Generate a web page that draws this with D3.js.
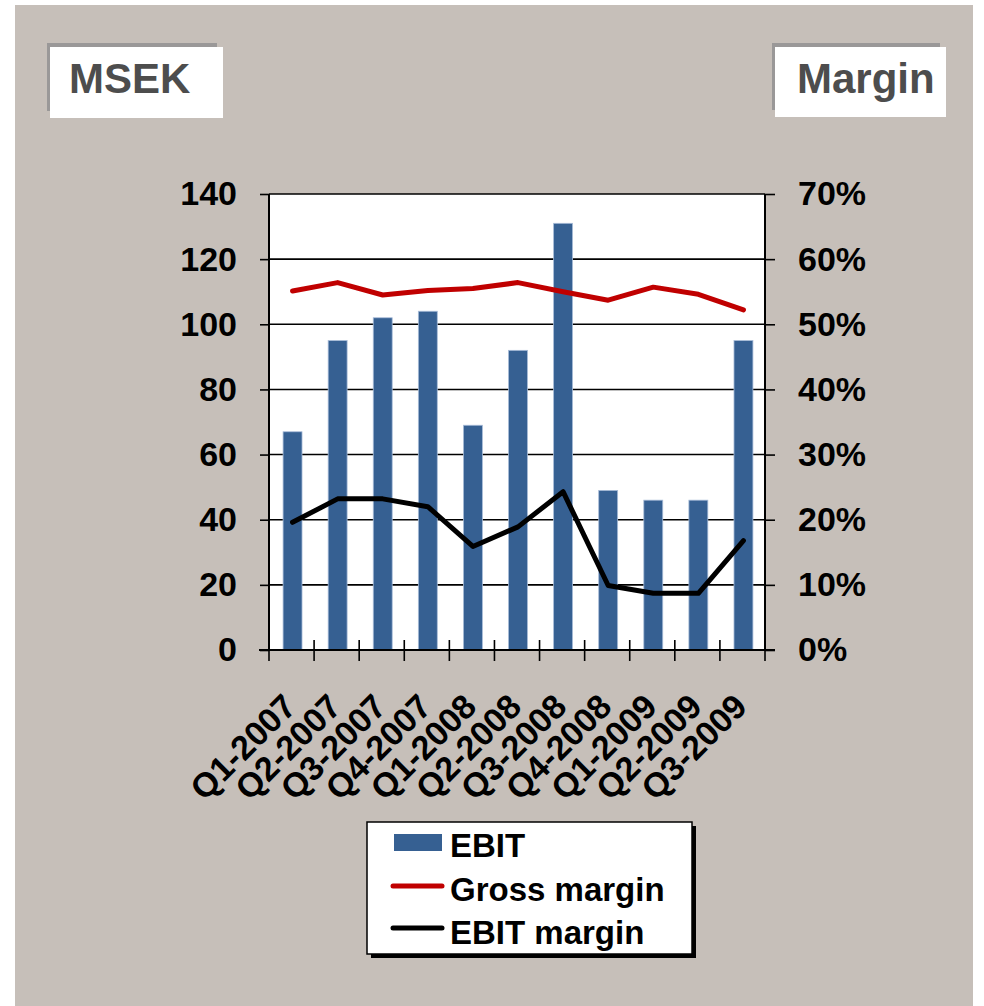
<!DOCTYPE html>
<html><head><meta charset="utf-8">
<script src="https://cdn.jsdelivr.net/npm/d3@7"></script>
<style>
html,body{margin:0;padding:0;background:#fff;}
svg{display:block;font-family:"Liberation Sans",Arial,sans-serif;font-weight:bold;}
</style></head>
<body>
<svg id="chart" width="984" height="1006"></svg>
<script>
const categories = ["Q1-2007","Q2-2007","Q3-2007","Q4-2007","Q1-2008","Q2-2008","Q3-2008","Q4-2008","Q1-2009","Q2-2009","Q3-2009"];
const ebit = [67, 95, 102, 104, 69, 92, 131, 49, 46, 46, 95];
const grossMargin = [0.551, 0.564, 0.545, 0.552, 0.555, 0.564, 0.550, 0.537, 0.557, 0.546, 0.522];
const ebitMargin = [0.196, 0.232, 0.232, 0.220, 0.159, 0.189, 0.243, 0.099, 0.087, 0.087, 0.168];
const leftTicks = [0, 20, 40, 60, 80, 100, 120, 140];
const rightTicks = [0, 0.1, 0.2, 0.3, 0.4, 0.5, 0.6, 0.7];
const legendItems = ["EBIT", "Gross margin", "EBIT margin"];

const svg = d3.select("#chart");
const L = 269, R = 765, T = 194, B = 650;

// background panel
svg.append("rect").attr("x", 15).attr("y", 5).attr("width", 958).attr("height", 1001).attr("fill", "#c6bfb9");

// title boxes
function titleBox(x, y, w, h, label, tx) {
  svg.append("rect").attr("x", x - 3).attr("y", y - 4).attr("width", w - 3).attr("height", h - 3).attr("fill", "#9a9898");
  svg.append("rect").attr("x", x).attr("y", y).attr("width", w).attr("height", h).attr("fill", "#ffffff");
  svg.append("text").attr("x", tx).attr("y", 93).attr("font-size", 42).attr("fill", "#4d4d4d").text(label);
}
titleBox(50, 47, 173, 71, "MSEK", 69);
titleBox(775, 47, 171, 70, "Margin", 797);

const x = d3.scaleBand().domain(categories).range([L, R]).paddingInner(0).paddingOuter(0);
const yL = d3.scaleLinear().domain([0, 140]).range([B, T]);
const yR = d3.scaleLinear().domain([0, 0.7]).range([B, T]);

// plot area
svg.append("rect").attr("x", L).attr("y", T).attr("width", R - L).attr("height", B - T).attr("fill", "#ffffff");

// gridlines
svg.append("g").selectAll("line").data(leftTicks.filter(d => d > 0)).join("line")
  .attr("x1", L).attr("x2", R).attr("y1", d => yL(d)).attr("y2", d => yL(d))
  .attr("stroke", "#000").attr("stroke-width", 1.6);

// bars
const bw = x.bandwidth() * 0.42;
svg.append("g").selectAll("rect").data(ebit).join("rect")
  .attr("x", (d, i) => x(categories[i]) + x.bandwidth() / 2 - bw / 2 + 1)
  .attr("y", d => yL(d))
  .attr("width", bw)
  .attr("height", d => B - yL(d))
  .attr("fill", "#366092")
  .attr("stroke", "#a8bcd8").attr("stroke-width", 0.8);

// left axis
const axL = svg.append("g").attr("transform", `translate(${L},0)`)
  .call(d3.axisLeft(yL).tickValues(leftTicks).tickSize(9).tickPadding(23).tickFormat(d3.format("d")));
axL.select(".domain").attr("stroke", "#000").attr("stroke-width", 2).attr("d", `M0,${T}V${B}`);
axL.selectAll(".tick line").attr("stroke", "#000").attr("stroke-width", 1.6);
axL.selectAll(".tick text").attr("font-size", 34).attr("font-family", "Liberation Sans, Arial, sans-serif").attr("font-weight", "bold").attr("fill", "#000");

// right axis
const axR = svg.append("g").attr("transform", `translate(${R},0)`)
  .call(d3.axisRight(yR).tickValues(rightTicks).tickSize(10).tickPadding(23).tickFormat(d3.format(".0%")));
axR.select(".domain").attr("stroke", "#000").attr("stroke-width", 2).attr("d", `M0,${T}V${B}`);
axR.selectAll(".tick line").attr("stroke", "#000").attr("stroke-width", 1.6);
axR.selectAll(".tick text").attr("font-size", 34).attr("font-family", "Liberation Sans, Arial, sans-serif").attr("font-weight", "bold").attr("fill", "#000");

// bottom axis line with crossing ticks
svg.append("line").attr("x1", L - 10).attr("x2", R + 10).attr("y1", B).attr("y2", B).attr("stroke", "#000").attr("stroke-width", 2);
const bounds = categories.map(c => x(c)).concat([R]);
svg.append("g").selectAll("line").data(bounds).join("line")
  .attr("x1", d => d).attr("x2", d => d).attr("y1", B - 10).attr("y2", B + 11)
  .attr("stroke", "#000").attr("stroke-width", 1.6);

// x labels
svg.append("g").selectAll("text").data(categories).join("text")
  .attr("text-anchor", "end")
  .attr("font-size", 34)
  .attr("transform", d => `translate(${x(d) + x.bandwidth() / 2 + 6.5},${B + 58.5}) rotate(-45)`)
  .text(d => d);

// lines
const cx = i => x(categories[i]) + x.bandwidth() / 2 + 1;
const lineG = d3.line().x((d, i) => cx(i)).y(d => yR(d));
svg.append("path").attr("d", lineG(grossMargin)).attr("fill", "none").attr("stroke", "#c00000").attr("stroke-width", 5).attr("stroke-linejoin", "round").attr("stroke-linecap", "round");
svg.append("path").attr("d", lineG(ebitMargin)).attr("fill", "none").attr("stroke", "#000").attr("stroke-width", 5).attr("stroke-linejoin", "round").attr("stroke-linecap", "round");

// legend
svg.append("rect").attr("x", 371).attr("y", 826).attr("width", 325).attr("height", 132).attr("fill", "#000");
svg.append("rect").attr("x", 367).attr("y", 822).attr("width", 325).attr("height", 132).attr("fill", "#fff").attr("stroke", "#000").attr("stroke-width", 1.5);
const lg = svg.append("g");
lg.append("rect").attr("x", 394).attr("y", 834).attr("width", 48).attr("height", 17).attr("fill", "#366092");
lg.append("line").attr("x1", 393).attr("x2", 442).attr("y1", 886).attr("y2", 886).attr("stroke", "#c00000").attr("stroke-width", 5).attr("stroke-linecap", "round");
lg.append("line").attr("x1", 393).attr("x2", 442).attr("y1", 928).attr("y2", 928).attr("stroke", "#000").attr("stroke-width", 5).attr("stroke-linecap", "round");
lg.selectAll("text").data(legendItems).join("text")
  .attr("x", 450).attr("y", (d, i) => 857 + i * 43.5)
  .attr("font-size", 33).attr("fill", "#000")
  .text(d => d);
</script>
</body></html>
